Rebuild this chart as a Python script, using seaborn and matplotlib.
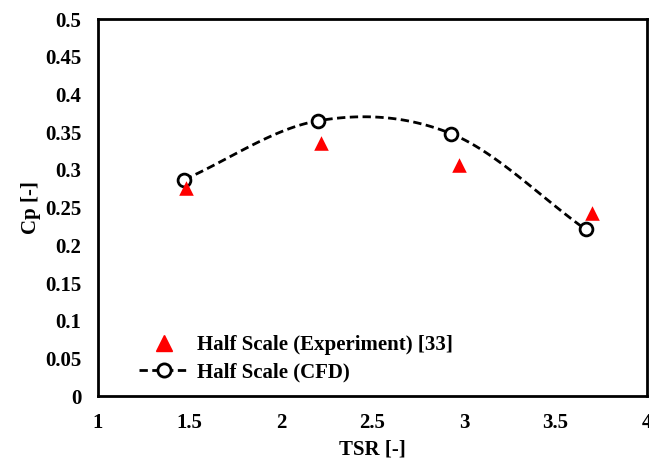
import numpy as np
import pandas as pd
import seaborn as sns
import matplotlib.pyplot as plt
from matplotlib.lines import Line2D

# --- Data ---
exp_tsr = [1.48, 2.22, 2.97, 3.70]
exp_cp = [0.276, 0.336, 0.306, 0.243]

cfd_tsr = [1.47, 2.20, 2.93, 3.665]
cfd_cp = [0.287, 0.365, 0.348, 0.221]

EXP_LABEL = "Half Scale (Experiment) [33]"
CFD_LABEL = "Half Scale (CFD)"


def smooth_line(x, y, n=40):
    """Catmull-Rom style smoothing, like a spreadsheet 'smoothed line'."""
    x = np.asarray(x, float)
    y = np.asarray(y, float)
    px = np.concatenate([[2 * x[0] - x[1]], x, [2 * x[-1] - x[-2]]])
    py = np.concatenate([[2 * y[0] - y[1]], y, [2 * y[-1] - y[-2]]])
    xs, ys = [], []
    t = np.linspace(0, 1, n)
    for i in range(1, len(px) - 2):
        p0, p1, p2, p3 = [np.array([px[j], py[j]]) for j in range(i - 1, i + 3)]
        b1 = p1 + (p2 - p0) / 6
        b2 = p2 - (p3 - p1) / 6
        seg = ((1 - t) ** 3)[:, None] * p1 + (3 * (1 - t) ** 2 * t)[:, None] * b1 \
            + (3 * (1 - t) * t ** 2)[:, None] * b2 + (t ** 3)[:, None] * p2
        xs.extend(seg[:, 0])
        ys.extend(seg[:, 1])
    return np.array(xs), np.array(ys)


sns.set_style("white")
plt.rcParams['font.family'] = ['Liberation Serif', 'DejaVu Serif']
plt.rcParams['font.weight'] = 'bold'
plt.rcParams['text.color'] = 'black'
plt.rcParams['axes.labelcolor'] = 'black'

FS = 15
DASH = (0, (3.0, 1.6))

fig, ax = plt.subplots(figsize=(6.49, 4.65), dpi=100)

exp_df = pd.DataFrame({"TSR": exp_tsr, "Cp": exp_cp})
cfd_df = pd.DataFrame({"TSR": cfd_tsr, "Cp": cfd_cp})

sx, sy = smooth_line(cfd_tsr, cfd_cp)
sns.lineplot(x=sx, y=sy, ax=ax, color="black", linestyle=DASH,
             linewidth=2.0, sort=False, estimator=None)
sns.scatterplot(data=cfd_df, x="TSR", y="Cp", ax=ax, marker="o", s=85,
                facecolor="white", edgecolor="black", linewidth=2.0, zorder=3)
sns.scatterplot(data=exp_df, x="TSR", y="Cp", ax=ax, marker="^", s=110,
                color="red", edgecolor="red", linewidth=0, zorder=4)

# legend handles
handles = [
    Line2D([], [], color="red", marker="^", linestyle="none", markersize=11),
    Line2D([], [], color="black", marker="o", markerfacecolor="white",
           markeredgewidth=2.0, markersize=9.5, linestyle=DASH, linewidth=2.0),
]
ax.legend(handles, [EXP_LABEL, CFD_LABEL], loc="lower left",
          bbox_to_anchor=(0.04, -0.013), frameon=False, handlelength=2.4,
          prop={"size": FS, "weight": "bold"}, labelspacing=0.35, handletextpad=0.4)

ax.set_xlim(1, 4)
ax.set_ylim(0, 0.5)
ax.set_xticks([1, 1.5, 2, 2.5, 3, 3.5, 4])
ax.set_xticklabels(["1", "1.5", "2", "2.5", "3", "3.5", "4"])
ax.set_yticks(np.arange(0, 0.501, 0.05))
ax.set_yticklabels(["0", "0.05", "0.1", "0.15", "0.2", "0.25", "0.3",
                    "0.35", "0.4", "0.45", "0.5"])
ax.tick_params(axis="both", direction="in", length=5, width=1.8,
               labelsize=FS, colors="black")
ax.tick_params(axis="y", pad=12)
ax.tick_params(axis="x", pad=12)
for lab in ax.get_xticklabels() + ax.get_yticklabels():
    lab.set_fontweight("bold")

for side in ["left", "bottom", "right", "top"]:
    ax.spines[side].set_visible(True)
    ax.spines[side].set_color("black")
    ax.spines[side].set_linewidth(2)

ax.set_xlabel("TSR [-]", fontsize=FS, fontweight="bold", labelpad=5)
ax.set_ylabel("Cp [-]", fontsize=FS, fontweight="bold", labelpad=3)

fig.subplots_adjust(left=0.151, right=0.997, top=0.959, bottom=0.148)
fig.savefig("out.png", dpi=100)
